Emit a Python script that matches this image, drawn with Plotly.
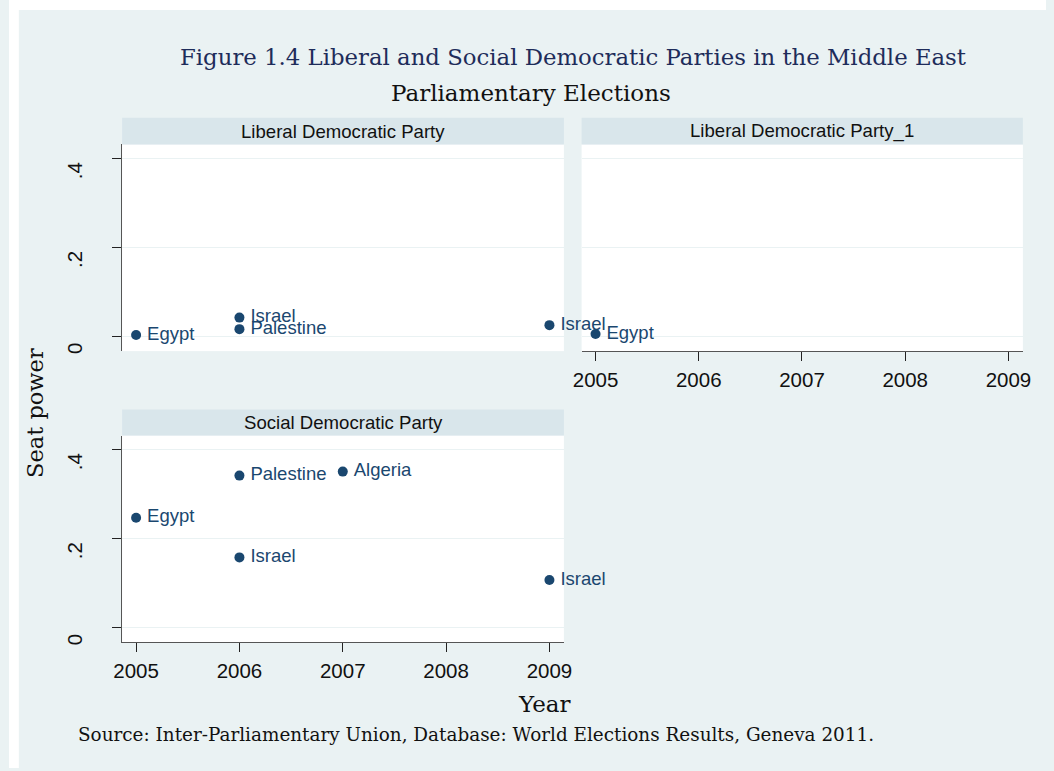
import plotly.graph_objects as go

# ---- data -------------------------------------------------------------
lib_years = [2005, 2006, 2006, 2009]
lib_seat = [0.003, 0.042, 0.016, 0.025]
lib_country = ["Egypt", "Israel", "Palestine", "Israel"]

lib1_years = [2005]
lib1_seat = [0.005]
lib1_country = ["Egypt"]

soc_years = [2005, 2006, 2006, 2007, 2009]
soc_seat = [0.247, 0.342, 0.158, 0.351, 0.107]
soc_country = ["Egypt", "Palestine", "Israel", "Algeria", "Israel"]

panel_titles = ["Liberal Democratic Party", "Liberal Democratic Party_1",
                "Social Democratic Party"]
year_ticks = [2005, 2006, 2007, 2008, 2009]
seat_ticks = [0, 0.2, 0.4]
seat_tick_text = ["0", ".2", ".4"]

# ---- geometry helpers (pixel -> paper) --------------------------------
W, H = 1054, 771
def px(x):
    return x / W
def py(y):
    return 1 - y / H

BG = "#EAF2F3"
STRIP = "#D9E6EB"
NAVY = "#1A476F"
SANS = "Liberation Sans, Arial, sans-serif"
SERIF = "DejaVu Serif, serif"

fig = go.Figure()

def add_points(xs, ys, names, xa, ya):
    fig.add_trace(go.Scatter(
        x=xs, y=ys, text=["\u2009" + n for n in names], mode="markers+text",
        textposition="middle right",
        marker=dict(color=NAVY, size=10, line=dict(width=0)),
        textfont=dict(family=SANS, size=18.5, color=NAVY),
        cliponaxis=False, showlegend=False, xaxis=xa, yaxis=ya,
        hoverinfo="x+y+text",
    ))

add_points(lib_years, lib_seat, lib_country, "x", "y")
add_points(lib1_years, lib1_seat, lib1_country, "x2", "y2")
add_points(soc_years, soc_seat, soc_country, "x3", "y3")

xrange = [2004.865, 2009.14]
yrange = [-0.0335, 0.432]

xcommon = dict(range=xrange, tickvals=year_ticks, showgrid=False,
               zeroline=False, ticks="outside", ticklen=9, tickcolor="#222",
               tickfont=dict(family=SANS, size=20.5, color="#111"),
               ticklabelstandoff=1, fixedrange=True)
ycommon = dict(range=yrange, tickvals=seat_ticks, ticktext=seat_tick_text,
               showgrid=True, gridcolor=BG, gridwidth=1, zeroline=False,
               ticks="outside", ticklen=9, tickcolor="#222", tickangle=-90,
               tickfont=dict(family=SANS, size=20.5, color="#111"),
               ticklabelstandoff=22, ticklabelshift=15, fixedrange=True)

top_dom = [py(352.5), py(145)]
bot_dom = [py(645), py(437.3)]
left_dom = [px(115), px(564)]
right_dom = [px(582), px(1030.5)]

fig.update_layout(
    xaxis=dict(xcommon, domain=left_dom, anchor="y", showticklabels=False,
               ticks="", showline=False),
    yaxis=dict(ycommon, domain=top_dom, anchor="x", showline=True,
               linecolor="#555", linewidth=1),
    xaxis2=dict(xcommon, domain=right_dom, anchor="y2", showline=True,
                linecolor="#555", linewidth=1),
    yaxis2=dict(ycommon, domain=top_dom, anchor="x2", showticklabels=False,
                ticks="", showline=False),
    xaxis3=dict(xcommon, domain=left_dom, anchor="y3", showline=True,
                linecolor="#555", linewidth=1),
    yaxis3=dict(ycommon, domain=bot_dom, anchor="x3", showline=True,
                linecolor="#555", linewidth=1),
)

# panel header strips
strips = [
    (115, 564, 118.3, 145, panel_titles[0]),
    (582, 1030.5, 118.3, 145, panel_titles[1]),
    (115, 564, 411, 437.3, panel_titles[2]),
]
shapes = [
    # thin white frame along the top and left edges
    dict(type="rect", xref="paper", yref="paper", x0=0, x1=px(10), y0=0, y1=1,
         fillcolor="white", line=dict(width=0), layer="below"),
    dict(type="rect", xref="paper", yref="paper", x0=0, x1=1, y0=py(10), y1=1,
         fillcolor="white", line=dict(width=0), layer="below"),
]
annotations = []
for x0, x1, y0, y1, label in strips:
    shapes.append(dict(type="rect", xref="paper", yref="paper",
                       x0=px(x0), x1=px(x1), y0=py(y1), y1=py(y0),
                       fillcolor=STRIP, line=dict(width=0), layer="below"))
    annotations.append(dict(text=label, xref="paper", yref="paper",
                            x=px((x0 + x1) / 2), y=py((y0 + y1) / 2),
                            xanchor="center", yanchor="middle", showarrow=False,
                            font=dict(family=SANS, size=18.6, color="#111")))

annotations += [
    dict(text="Figure 1.4 Liberal and Social Democratic Parties in the Middle East",
         xref="paper", yref="paper", x=px(573), y=py(57), xanchor="center",
         yanchor="middle", showarrow=False,
         font=dict(family=SERIF, size=22.8, color="#1E2C5A")),
    dict(text="Parliamentary Elections", xref="paper", yref="paper",
         x=px(531), y=py(93), xanchor="center", yanchor="middle",
         showarrow=False, font=dict(family=SERIF, size=23, color="#111")),
    dict(text="Seat power", xref="paper", yref="paper", x=px(27), y=py(415),
         xanchor="center", yanchor="middle", textangle=-90, showarrow=False,
         font=dict(family=SERIF, size=22.5, color="#111")),
    dict(text="Year", xref="paper", yref="paper", x=px(544), y=py(707),
         xanchor="center", yanchor="middle", showarrow=False,
         font=dict(family=SERIF, size=23, color="#111")),
    dict(text="Source: Inter-Parliamentary Union, Database: World Elections Results, Geneva 2011.",
         xref="paper", yref="paper", x=px(68), y=py(737), xanchor="left",
         yanchor="middle", showarrow=False,
         font=dict(family=SERIF, size=18.4, color="#111")),
]

fig.update_layout(
    width=W, height=H, margin=dict(l=0, r=0, t=0, b=0, pad=0),
    paper_bgcolor=BG, plot_bgcolor="white",
    shapes=shapes, annotations=annotations,
)

fig.write_html("out.html")
